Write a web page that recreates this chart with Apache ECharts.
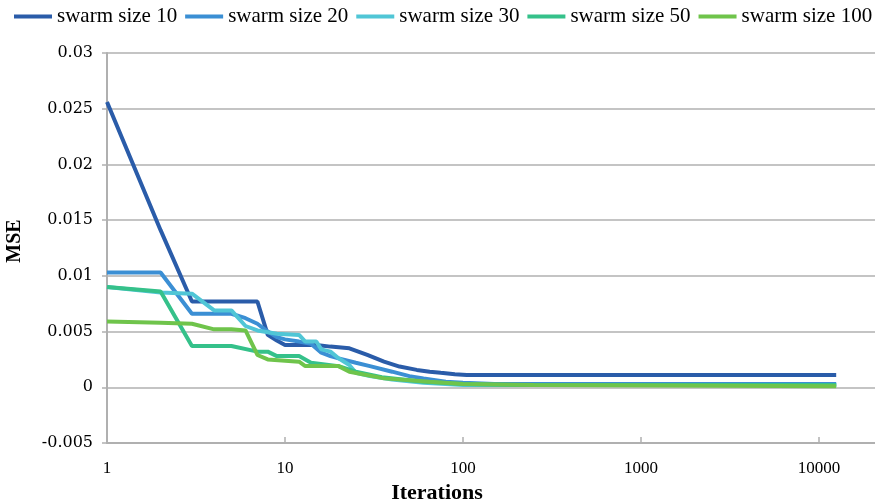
<!DOCTYPE html>
<html>
<head>
<meta charset="utf-8">
<style>html,body{margin:0;padding:0;background:#fff}#c{width:875px;height:503px}</style>
<script src="https://cdn.jsdelivr.net/npm/echarts@6/dist/echarts.min.js"></script>
</head>
<body>
<div id="c"></div>
<script>
const seriesNames = ['swarm size 10', 'swarm size 20', 'swarm size 30', 'swarm size 50', 'swarm size 100'];
const colors = ['#2a5ca9', '#3b8fd4', '#50c6d6', '#35c18a', '#6fc44b'];

const iter10 = [1,2,3,4,5,6,7,8,9,10,12,15,18,23,29,36,44,55,65,75,90,105,12500];
const mse10  = [0.0256,0.0141,0.0077,0.0077,0.0077,0.0077,0.0077,0.0047,0.0042,0.0038,0.0038,0.0038,0.00365,0.0035,0.0029,0.0023,0.00186,0.00156,0.0014,0.0013,0.00118,0.0011,0.0011];

const iter20 = [1,2,3,4,5,6,7,8,9,10,12,14,16,18,20,25,30,40,50,60,80,100,150,12500];
const mse20  = [0.0103,0.0103,0.0066,0.0066,0.0066,0.0062,0.0057,0.0050,0.0045,0.0043,0.0041,0.0039,0.0031,0.0028,0.0026,0.0022,0.0019,0.0014,0.0010,0.0008,0.0005,0.0004,0.0003,0.0003];

const iter30 = [1,2,3,4,5,6,7,9,12,13,15,16,18,20,23,25,30,40,60,100,200,12500];
const mse30  = [0.0090,0.0085,0.0084,0.0069,0.0069,0.0055,0.0051,0.0048,0.0047,0.0041,0.0041,0.0034,0.0032,0.0026,0.0020,0.0013,0.0010,0.0007,0.0004,0.0002,0.0002,0.0002];

const iter50 = [1,2,3,4,5,7,8,9,12,14,20,25,35,60,100,200,12500];
const mse50  = [0.0090,0.0086,0.0037,0.0037,0.0037,0.0032,0.0032,0.0028,0.0028,0.0022,0.0019,0.0014,0.0009,0.0005,0.0003,0.0002,0.0002];

const iter100 = [1,2,3,4,5,6,7,8,12,13,20,23,36,65,100,250,12500];
const mse100  = [0.0059,0.0058,0.0057,0.0052,0.0052,0.0051,0.0029,0.0025,0.0023,0.0019,0.0019,0.0014,0.0008,0.0005,0.0003,0.0002,0.0001];

const yTicks = [-0.005, 0, 0.005, 0.01, 0.015, 0.02, 0.025, 0.03];

const iters = [iter10, iter20, iter30, iter50, iter100];
const mses = [mse10, mse20, mse30, mse50, mse100];

const chart = echarts.init(document.getElementById('c'));
chart.setOption({
  animation: false,
  color: colors,
  legend: {
    top: 6, left: 14, width: 861, padding: 0,
    icon: 'rect', itemWidth: 38, itemHeight: 4, itemGap: 8,
    textStyle: { fontFamily: 'Liberation Serif', fontSize: 21, color: '#000' },
    data: seriesNames
  },
  grid: { left: 107, right: 0, top: 53, bottom: 60, containLabel: false, outerBoundsMode: 'none' },
  xAxis: {
    type: 'log', logBase: 10, min: 1, max: 20650,
    name: 'Iterations', nameLocation: 'middle', nameGap: 33,
    nameTextStyle: { fontFamily: 'Liberation Serif', fontWeight: 'bold', fontSize: 22, color: '#000', padding: [0, 108, 0, 0] },
    axisLine: { onZero: false, lineStyle: { color: '#b0b0b0', width: 2 } },
    axisTick: { inside: true, length: 6, lineStyle: { color: '#b0b0b0', width: 1.5 } },
    axisLabel: { showMaxLabel: false, margin: 17, fontFamily: 'Liberation Serif', fontSize: 17, color: '#000',
      formatter: v => String(Math.round(v)) },
    splitLine: { show: false },
    minorTick: { show: false }
  },
  yAxis: {
    type: 'value', min: -0.005, max: 0.03, interval: 0.005,
    name: 'MSE', nameLocation: 'middle', nameGap: 82, nameRotate: 90,
    nameTextStyle: { fontFamily: 'Liberation Serif', fontWeight: 'bold', fontSize: 20, color: '#000', padding: [0, 0, 0, 14] },
    axisLine: { show: true, onZero: false, lineStyle: { color: '#b0b0b0', width: 2 } },
    axisTick: { show: true, length: 5, lineStyle: { color: '#b0b0b0', width: 1.5 } },
    axisLabel: { margin: 14, fontFamily: 'DejaVu Serif', fontSize: 16, color: '#000',
      formatter: v => { const t = yTicks.find(k => Math.abs(k - v) < 1e-9); return String(t !== undefined ? t : v); } },
    splitLine: { lineStyle: { color: '#c4c4c4', width: 2 } }
  },
  series: seriesNames.map((n, i) => ({
    name: n, type: 'line', symbol: 'none',
    lineStyle: { width: 4, color: colors[i] },
    data: iters[i].map((x, j) => [x, mses[i][j]])
  }))
});
</script>
</body>
</html>
